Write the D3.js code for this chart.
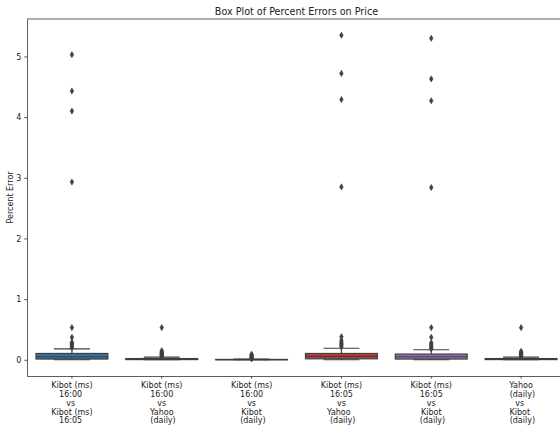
<!DOCTYPE html>
<html>
<head>
<meta charset="utf-8">
<title>Box Plot of Percent Errors on Price</title>
<style>
  body { margin: 0; background: #fff; }
  svg { display: block; font-family: "DejaVu Sans", sans-serif; }
</style>
</head>
<body>
<svg width="560" height="425"></svg>
<script src="https://d3js.org/d3.v7.min.js"></script>
<script>
// category labels (one line per entry)
var labels = [
  ["Kibot (ms)", "16:00 ", "vs ", "Kibot (ms)", "16:05 "],
  ["Kibot (ms)", "16:00", "vs", "Yahoo", " (daily)"],
  ["Kibot (ms)", "16:00", "vs", "Kibot", " (daily)"],
  ["Kibot (ms)", "16:05", "vs", "Yahoo  ", " (daily)"],
  ["Kibot (ms)", "16:05", "vs", "Kibot", " (daily)"],
  ["Yahoo", " (daily)", "vs ", "Kibot ", " (daily)"]
];
var colors = ["#3274a1", "#e1812c", "#3a923a", "#c03d3e", "#9372b2", "#845b53"];

// box summaries
var q1      = [0.012, 0.003, 0.000, 0.016, 0.012, 0.003];
var medians = [0.050, 0.010, 0.003, 0.055, 0.050, 0.010];
var q3      = [0.104, 0.020, 0.006, 0.104, 0.094, 0.020];
var whiskLo = [0.000, 0.000, 0.000, 0.000, 0.000, 0.000];
var whiskHi = [0.180, 0.045, 0.012, 0.190, 0.165, 0.045];
var outliers = [
  [0.20, 0.21, 0.23, 0.25, 0.27, 0.29, 0.37, 0.53, 2.93, 4.10, 4.43, 5.03],
  [0.05, 0.06, 0.07, 0.08, 0.09, 0.10, 0.11, 0.12, 0.13, 0.15, 0.53],
  [0.015, 0.02, 0.03, 0.04, 0.05, 0.06, 0.07, 0.08, 0.09],
  [0.21, 0.23, 0.25, 0.27, 0.29, 0.32, 0.38, 2.85, 4.29, 4.72, 5.35],
  [0.18, 0.20, 0.22, 0.24, 0.26, 0.28, 0.37, 0.53, 2.84, 4.27, 4.63, 5.30],
  [0.05, 0.06, 0.07, 0.08, 0.09, 0.10, 0.11, 0.12, 0.14, 0.53]
];
var yTicks = [0, 1, 2, 3, 4, 5];

var svg = d3.select("svg");
var margin = {left: 27, top: 19, right: -6, bottom: 49};
var width = +svg.attr("width"), height = +svg.attr("height");
var gray = "#3f3f3f";

var x = d3.scaleBand()
    .domain(d3.range(labels.length))
    .range([margin.left, width - margin.right])
    .paddingInner(0.2)
    .paddingOuter(0.1);

// matplotlib style 5% padding on the data extent
var allVals = d3.merge(outliers).concat(whiskLo, whiskHi);
var lo = d3.min(allVals), hi = d3.max(allVals), pad = (hi - lo) * 0.05;
var y = d3.scaleLinear()
    .domain([lo - pad, hi + pad])
    .range([height - margin.bottom, margin.top]);

// title and y label
svg.append("text")
    .attr("x", (x.range()[0] + x.range()[1]) / 2)
    .attr("y", 14.5)
    .attr("text-anchor", "middle")
    .attr("font-size", 9.6)
    .attr("fill", "#222")
    .text("Box Plot of Percent Errors on Price");

svg.append("text")
    .attr("transform", "translate(12.5," + ((y.range()[0] + y.range()[1]) / 2) + ") rotate(-90)")
    .attr("text-anchor", "middle")
    .attr("font-size", 8)
    .attr("fill", "#222")
    .text("Percent Error");

// boxes
var boxes = svg.append("g").selectAll("g")
  .data(d3.range(labels.length))
  .enter().append("g");

boxes.append("line")   // whisker lower
    .attr("x1", function(i) { return x(i) + x.bandwidth() / 2; })
    .attr("x2", function(i) { return x(i) + x.bandwidth() / 2; })
    .attr("y1", function(i) { return y(whiskLo[i]); })
    .attr("y2", function(i) { return y(q1[i]); })
    .attr("stroke", gray).attr("stroke-width", 1.2);
boxes.append("line")   // whisker upper
    .attr("x1", function(i) { return x(i) + x.bandwidth() / 2; })
    .attr("x2", function(i) { return x(i) + x.bandwidth() / 2; })
    .attr("y1", function(i) { return y(q3[i]); })
    .attr("y2", function(i) { return y(whiskHi[i]); })
    .attr("stroke", gray).attr("stroke-width", 1.2);

[whiskLo, whiskHi].forEach(function(arr) {   // caps, half the box width
  boxes.append("line")
      .attr("x1", function(i) { return x(i) + x.bandwidth() / 4; })
      .attr("x2", function(i) { return x(i) + x.bandwidth() * 3 / 4; })
      .attr("y1", function(i) { return y(arr[i]); })
      .attr("y2", function(i) { return y(arr[i]); })
      .attr("stroke", gray).attr("stroke-width", 1.2);
});

boxes.append("rect")
    .attr("x", function(i) { return x(i); })
    .attr("width", x.bandwidth())
    .attr("y", function(i) { return y(q3[i]); })
    .attr("height", function(i) { return y(q1[i]) - y(q3[i]); })
    .attr("fill", function(i) { return colors[i]; })
    .attr("stroke", gray).attr("stroke-width", 1.2);

boxes.append("line")   // median
    .attr("x1", function(i) { return x(i); })
    .attr("x2", function(i) { return x(i) + x.bandwidth(); })
    .attr("y1", function(i) { return y(medians[i]); })
    .attr("y2", function(i) { return y(medians[i]); })
    .attr("stroke", gray).attr("stroke-width", 1.2);

var diamond = d3.symbol().type(d3.symbolDiamond).size(11);
boxes.selectAll("path")
  .data(function(i) { return outliers[i].map(function(v) { return {i: i, v: v}; }); })
  .enter().append("path")
    .attr("d", diamond)
    .attr("transform", function(d) { return "translate(" + (x(d.i) + x.bandwidth() / 2) + "," + y(d.v) + ")"; })
    .attr("fill", gray)
    .attr("stroke", gray).attr("stroke-width", 0.6);

// axes
var yAxis = svg.append("g")
    .attr("transform", "translate(" + margin.left + ",0)")
    .call(d3.axisLeft(y).tickValues(yTicks).tickFormat(d3.format("d"))
      .tickSize(2.8).tickPadding(2.8).tickSizeOuter(0));
var xAxis = svg.append("g")
    .attr("transform", "translate(0," + y.range()[0] + ")")
    .call(d3.axisBottom(x).tickSize(2.8).tickPadding(2.8).tickSizeOuter(0));

[xAxis, yAxis].forEach(function(g) {
  g.selectAll("path, line").attr("stroke", "#333").attr("stroke-width", 0.8);
  g.selectAll("text").attr("font-size", 8).attr("fill", "#222").attr("font-family", "DejaVu Sans");
});

xAxis.selectAll(".tick text")
    .text(null)
    .attr("y", 0)
    .attr("dy", null)
    .style("white-space", "pre")
    .each(function(i) {
      var t = d3.select(this);
      labels[i].forEach(function(line, k) {
        t.append("tspan")
          .attr("x", 0)
          .attr("y", 12.3 + k * 8.75)
          .text(line);
      });
    });

// top spine (right spine falls outside the picture)
svg.append("line")
    .attr("x1", margin.left).attr("x2", x.range()[1])
    .attr("y1", y.range()[1]).attr("y2", y.range()[1])
    .attr("stroke", "#333").attr("stroke-width", 0.8);
</script>
</body>
</html>
